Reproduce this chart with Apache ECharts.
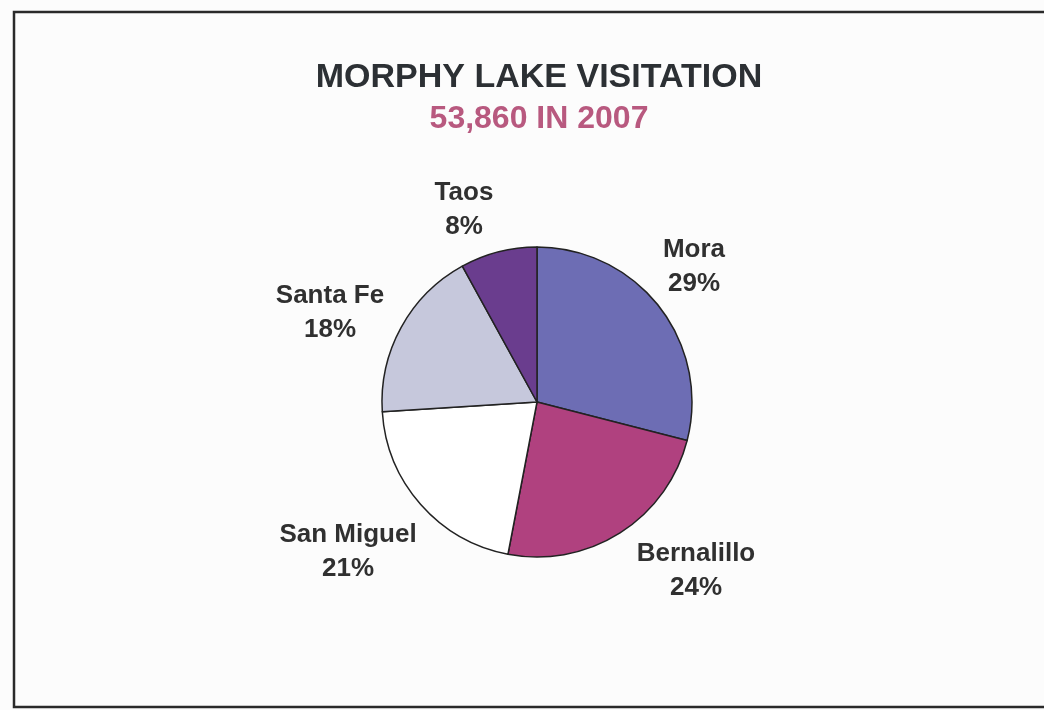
<!DOCTYPE html>
<html><head><meta charset="utf-8">
<script src="https://cdn.jsdelivr.net/npm/echarts@6/dist/echarts.min.js"></script>
<style>html,body{margin:0;padding:0;background:#fcfcfc}#c{width:1044px;height:710px}</style>
</head><body><div id="c"></div>
<script>
const categories = ['Mora', 'Bernalillo', 'San Miguel', 'Santa Fe', 'Taos'];
const values = [29, 24, 21, 18, 8];
const colors = ['#6d6db4', '#b0417f', '#ffffff', '#c6c8dc', '#6a3d8e'];
const titleText = 'MORPHY LAKE VISITATION';
const subtitleText = '53,860 IN 2007';

// label placement relative to the pie centre (layout only)
const pieCenter = [537, 402];
const labelOffsets = {
  'Mora': [157, -135],
  'Bernalillo': [159, 169],
  'San Miguel': [-189, 150],
  'Santa Fe': [-207, -89],
  'Taos': [-73, -192]
};

const chart = echarts.init(document.getElementById('c'));
chart.setOption({
  backgroundColor: '#fcfcfc',
  animation: false,
  title: {
    text: titleText,
    subtext: subtitleText,
    left: 534, top: 56, textAlign: 'center',
    textStyle: { fontFamily: 'Liberation Sans', fontSize: 34, fontWeight: 'bold', color: '#2c3034' },
    subtextStyle: { fontFamily: 'Liberation Sans', fontSize: 32, fontWeight: 'bold', color: '#b8597f' },
    itemGap: 8
  },
  graphic: [{
    type: 'rect', shape: { x: 14, y: 12, width: 1040, height: 695 },
    style: { fill: 'none', stroke: '#2a2a2a', lineWidth: 2.5 }
  }],
  series: [{
    type: 'pie',
    center: pieCenter, radius: 155,
    startAngle: 90, clockwise: true,
    avoidLabelOverlap: false,
    data: categories.map((n, i) => ({ name: n, value: values[i], itemStyle: { color: colors[i] } })),
    itemStyle: { borderColor: '#222', borderWidth: 1.5 },
    label: {
      show: true, position: 'outside',
      formatter: p => p.name + '\n' + p.value + '%',
      fontFamily: 'Liberation Sans', fontSize: 26, fontWeight: 'bold', color: '#303030', lineHeight: 34
    },
    labelLine: { show: false },
    labelLayout: p => {
      const o = labelOffsets[p.text.split('\n')[0]] || [0, 0];
      return { x: pieCenter[0] + o[0], y: pieCenter[1] + o[1], align: 'center', verticalAlign: 'middle' };
    },
    emphasis: { disabled: true }
  }]
});
</script></body></html>
